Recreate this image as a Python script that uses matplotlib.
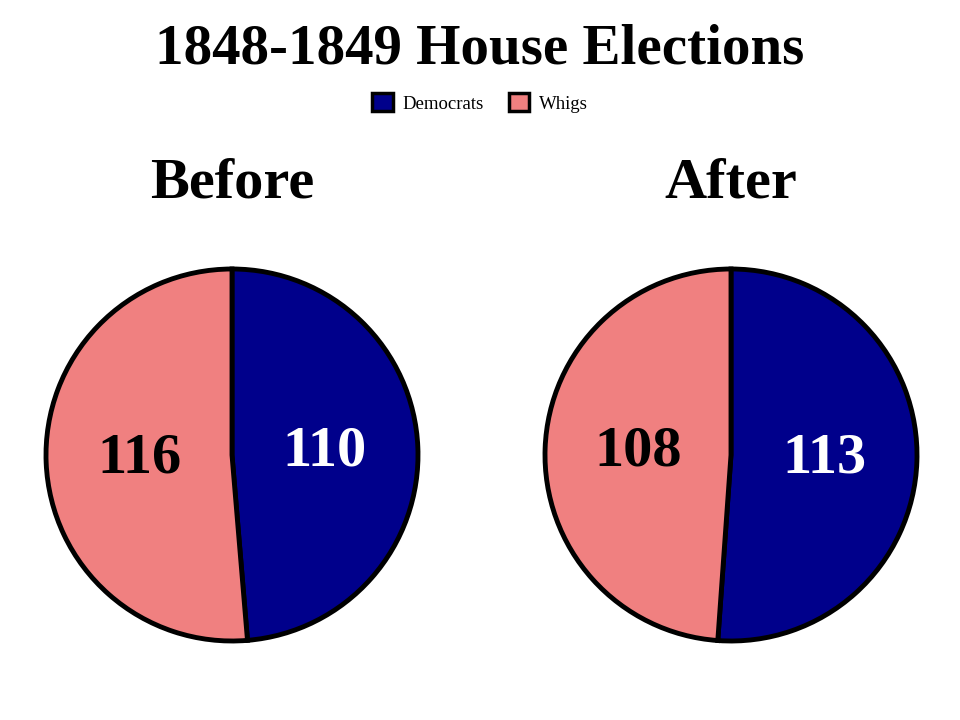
import matplotlib
matplotlib.use('Agg')
import matplotlib.pyplot as plt
from matplotlib.patches import Patch

plt.rcParams['font.family'] = ['Liberation Serif', 'DejaVu Serif']

parties = ['Democrats', 'Whigs']
colors = ['#00008B', '#F08080']
label_colors = ['white', 'black']
before_seats = [110, 116]
after_seats = [113, 108]

W, H = 960, 720
fig = plt.figure(figsize=(W / 100, H / 100), dpi=100)

def draw_pie(cx, cy, r, values, subtitle):
    ax = fig.add_axes([(cx - r) / W, 1 - (cy + r) / H, 2 * r / W, 2 * r / H])
    wedges, texts, autotexts = ax.pie(
        values, colors=colors, startangle=90, counterclock=False,
        autopct=lambda p: '{:.0f}'.format(p * sum(values) / 100),
        pctdistance=0.5,
        wedgeprops=dict(edgecolor='black', linewidth=3.5, clip_on=False))
    for t, c in zip(autotexts, label_colors):
        t.set_color(c)
        t.set_fontsize(42)
        t.set_fontweight('bold')
    ax.set_xlim(-1, 1)
    ax.set_ylim(-1, 1)
    ax.set_aspect('equal')
    ax.axis('off')
    fig.text(cx / W, 1 - 198 / H, subtitle, ha='center', va='baseline',
             fontsize=42, fontweight='bold')

draw_pie(232, 455, 186, before_seats, 'Before')
draw_pie(731, 455, 186, after_seats, 'After')

fig.text(0.5, 1 - 64 / H, '1848-1849 House Elections', ha='center', va='baseline',
         fontsize=41, fontweight='bold')

handles = [Patch(facecolor=c, edgecolor='black', linewidth=2.5, label=p)
           for c, p in zip(colors, parties)]
fig.legend(handles=handles, loc='center', bbox_to_anchor=(0.5, 1 - 103 / H),
           ncol=2, frameon=False, fontsize=13.5, handlelength=1.07,
           handleheight=1.07, columnspacing=1.33, handletextpad=0.53)

fig.savefig('out.png', dpi=100)
